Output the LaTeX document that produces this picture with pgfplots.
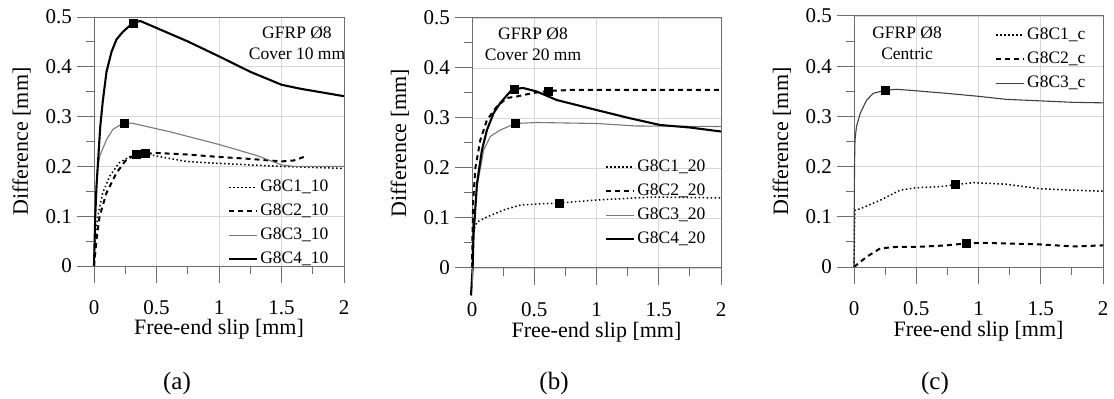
\documentclass[border=0pt]{standalone}
\usepackage{pgfplots}
\pgfplotsset{compat=1.18}
\usepackage{fontspec}
\setmainfont{Liberation Serif}
\definecolor{gridgray}{RGB}{215,215,215}
\definecolor{axisgray}{RGB}{110,110,110}
\definecolor{c3gray}{RGB}{120,120,120}
\tikzset{
  tk/.style={draw=axisgray, line width=1pt},
  tl/.style={inner sep=0pt, font=\fontsize{21}{21}\selectfont},
}
\newcommand{\panelticks}{%
  \pgfplotsinvokeforeach{0,0.5,1,1.5,2}{\draw[tk] (axis cs:##1,0) -- ++(0pt,-17pt); \path (axis cs:##1,0) ++(0pt,-34pt) node[tl,anchor=north] {##1};}%
  \pgfplotsinvokeforeach{0.25,0.75,1.25,1.75}{\draw[tk] (axis cs:##1,0) -- ++(0pt,-8pt);}%
  \pgfplotsinvokeforeach{0,0.1,0.2,0.3,0.4,0.5}{\draw[tk] (axis cs:0,##1) -- ++(-17pt,0pt); \path (axis cs:0,##1) ++(-22pt,0pt) node[tl,anchor=east] {##1};}%
  \pgfplotsinvokeforeach{0.05,0.15,0.25,0.35,0.45}{\draw[tk] (axis cs:0,##1) -- ++(-8pt,0pt);}%
}
\pgfplotsset{
  panel/.style={
    scale only axis, width=250pt, height=249pt, clip=false,
    xmin=0,xmax=2,ymin=0,ymax=0.5,
    xtick={0,0.5,1,1.5,2}, ytick={0,0.1,0.2,0.3,0.4,0.5},
    xticklabels={}, yticklabels={},
    xtick style={draw=none}, ytick style={draw=none},
    grid=major, grid style={gridgray, line width=0.8pt},
    axis line style={draw=axisgray, line width=1pt},
    label style={font=\fontsize{22}{22}\selectfont},
    xlabel={Free-end slip [mm]}, ylabel={Difference [mm]},
    xlabel style={at={(axis description cs:0.5,-0.255)}, anchor=center},
    ylabel style={at={(axis description cs:-0.29,0.5)}, anchor=center},
    legend cell align=left,
    legend style={draw=none, fill=none, inner sep=0pt, row sep=4pt,
      font=\fontsize{17.5}{17.5}\selectfont,
      nodes={inner sep=2pt, text height=12pt, text depth=4pt},
      /tikz/every even column/.append style={column sep=6pt}},
    legend image code/.code={\draw[##1] plot coordinates {(0pt,0pt) (28pt,0pt)};},
  },
  s1/.style={black, line width=1.5pt, dash pattern=on 1.5pt off 2.5pt},
  s2/.style={black, line width=2pt, dash pattern=on 5pt off 4pt},
  s3/.style={c3gray, line width=1.1pt},
  s4/.style={black, line width=2.1pt},
  mk/.style={only marks, mark=square*, mark size=4pt, mark options={fill=black, draw=black, solid}, forget plot},
}
\begin{document}
\begin{tikzpicture}
% ---------------- (a)
\begin{axis}[panel, at={(94pt,133pt)},
  legend style={at={(axis description cs:0.536,0.357)}, anchor=north west}]
\addplot[s1] coordinates {(0,0) (0.01,0.06) (0.03,0.1) (0.07,0.147) (0.125,0.18) (0.2,0.207) (0.29,0.22) (0.42,0.225) (0.58,0.217) (0.74,0.21) (1.0,0.206) (1.5,0.2) (2.0,0.196)};
\addlegendentry{G8C1\_10}
\addplot[s2] coordinates {(0,0) (0.02,0.053) (0.045,0.1) (0.1,0.147) (0.18,0.187) (0.26,0.214) (0.34,0.224) (0.5,0.227) (0.74,0.224) (1.0,0.219) (1.25,0.215) (1.5,0.21) (1.6,0.212) (1.69,0.22)};
\addlegendentry{G8C2\_10}
\addplot[s3] coordinates {(0,0) (0.01,0.12) (0.025,0.19) (0.045,0.22) (0.1,0.254) (0.15,0.274) (0.2,0.282) (0.245,0.286) (0.3,0.287) (0.6,0.27) (1.0,0.244) (1.3,0.222) (1.5,0.203) (1.6,0.2) (2.0,0.2)};
\addlegendentry{G8C3\_10}
\addplot[s4] coordinates {(0,0) (0.01,0.1) (0.02,0.16) (0.03,0.2) (0.05,0.28) (0.07,0.33) (0.1,0.39) (0.14,0.43) (0.18,0.455) (0.23,0.47) (0.31,0.488) (0.37,0.492) (0.5,0.478) (0.75,0.451) (1.0,0.421) (1.25,0.39) (1.5,0.364) (1.65,0.356) (2.0,0.341)};
\addlegendentry{G8C4\_10}
\addplot[mk] coordinates {(0.41,0.227) (0.34,0.224) (0.245,0.286) (0.31,0.488)};
\node[align=center, font=\fontsize{17.5}{21}\selectfont] at (axis description cs:0.812,0.896) {GFRP Ø8\\Cover 10 mm};
\panelticks
\end{axis}
% ---------------- (b)
\begin{axis}[panel, at={(472pt,131pt)}, width=249pt, height=250pt,
  legend style={at={(axis description cs:0.534,0.444)}, anchor=north west}]
\addplot[s1] coordinates {(0,0) (0.005,0.05) (0.013,0.076) (0.04,0.092) (0.12,0.102) (0.254,0.116) (0.39,0.126) (0.52,0.128) (0.7,0.13) (1.0,0.136) (1.46,0.142) (2.0,0.14)};
\addlegendentry{G8C1\_20}
\addplot[s2] coordinates {(0,0) (0.005,0.08) (0.01,0.136) (0.027,0.2) (0.067,0.256) (0.12,0.296) (0.2,0.323) (0.28,0.34) (0.36,0.343) (0.49,0.35) (0.61,0.354) (0.79,0.356) (2.0,0.356)};
\addlegendentry{G8C2\_20}
\addplot[s3] coordinates {(0,0) (0.013,0.069) (0.04,0.162) (0.094,0.236) (0.147,0.263) (0.227,0.276) (0.35,0.289) (0.52,0.291) (1.0,0.289) (1.32,0.284) (2.0,0.283)};
\addlegendentry{G8C3\_20}
\addplot[s4] coordinates {(-0.008,-0.055) (0.005,0) (0.013,0.069) (0.04,0.169) (0.08,0.236) (0.12,0.276) (0.174,0.31) (0.227,0.33) (0.307,0.353) (0.342,0.358) (0.41,0.36) (0.52,0.353) (0.68,0.336) (1.0,0.316) (1.26,0.3) (1.51,0.286) (1.75,0.281) (2.0,0.273)};
\addlegendentry{G8C4\_20}
\addplot[mk] coordinates {(0.7,0.13) (0.61,0.354) (0.35,0.289) (0.342,0.358)};
\node[align=center, font=\fontsize{17.5}{21}\selectfont] at (axis description cs:0.245,0.896) {GFRP Ø8\\Cover 20 mm};
\panelticks
\end{axis}
% ---------------- (c)
\begin{axis}[panel, at={(854pt,132pt)}, width=249pt, height=251pt,
  legend style={at={(axis description cs:0.566,0.964)}, anchor=north west}]
\addplot[s1] coordinates {(0,0) (0.004,0.08) (0.008,0.113) (0.05,0.116) (0.21,0.133) (0.37,0.153) (0.5,0.158) (0.69,0.16) (0.815,0.164) (0.96,0.168) (1.22,0.165) (1.49,0.156) (1.76,0.153) (2.0,0.151)};
\addlegendentry{G8C1\_c}
\addplot[s2] coordinates {(0,0) (0.1,0.02) (0.21,0.037) (0.34,0.04) (0.5,0.04) (0.74,0.043) (0.9,0.047) (1.04,0.048) (1.49,0.045) (1.76,0.041) (2.0,0.043)};
\addlegendentry{G8C2\_c}
\addplot[black!75, line width=1.1pt] coordinates {(0,0) (0.004,0.2) (0.008,0.253) (0.02,0.28) (0.05,0.306) (0.1,0.332) (0.155,0.346) (0.25,0.352) (0.34,0.354) (0.5,0.351) (0.74,0.346) (1.0,0.34) (1.22,0.334) (1.49,0.331) (1.76,0.328) (2.0,0.327)};
\addlegendentry{G8C3\_c}
\addplot[mk] coordinates {(0.815,0.164) (0.9,0.047) (0.25,0.352)};
\node[align=center, font=\fontsize{17.5}{21}\selectfont] at (axis description cs:0.213,0.892) {GFRP Ø8\\Centric};
\panelticks
\end{axis}
% captions
\node[font=\fontsize{25}{25}\selectfont] at (177pt,16pt) {(a)};
\node[font=\fontsize{25}{25}\selectfont] at (554pt,16pt) {(b)};
\node[font=\fontsize{25}{25}\selectfont] at (935pt,16pt) {(c)};
\path (0,0) rectangle (1114pt,399pt);
\end{tikzpicture}
\end{document}
